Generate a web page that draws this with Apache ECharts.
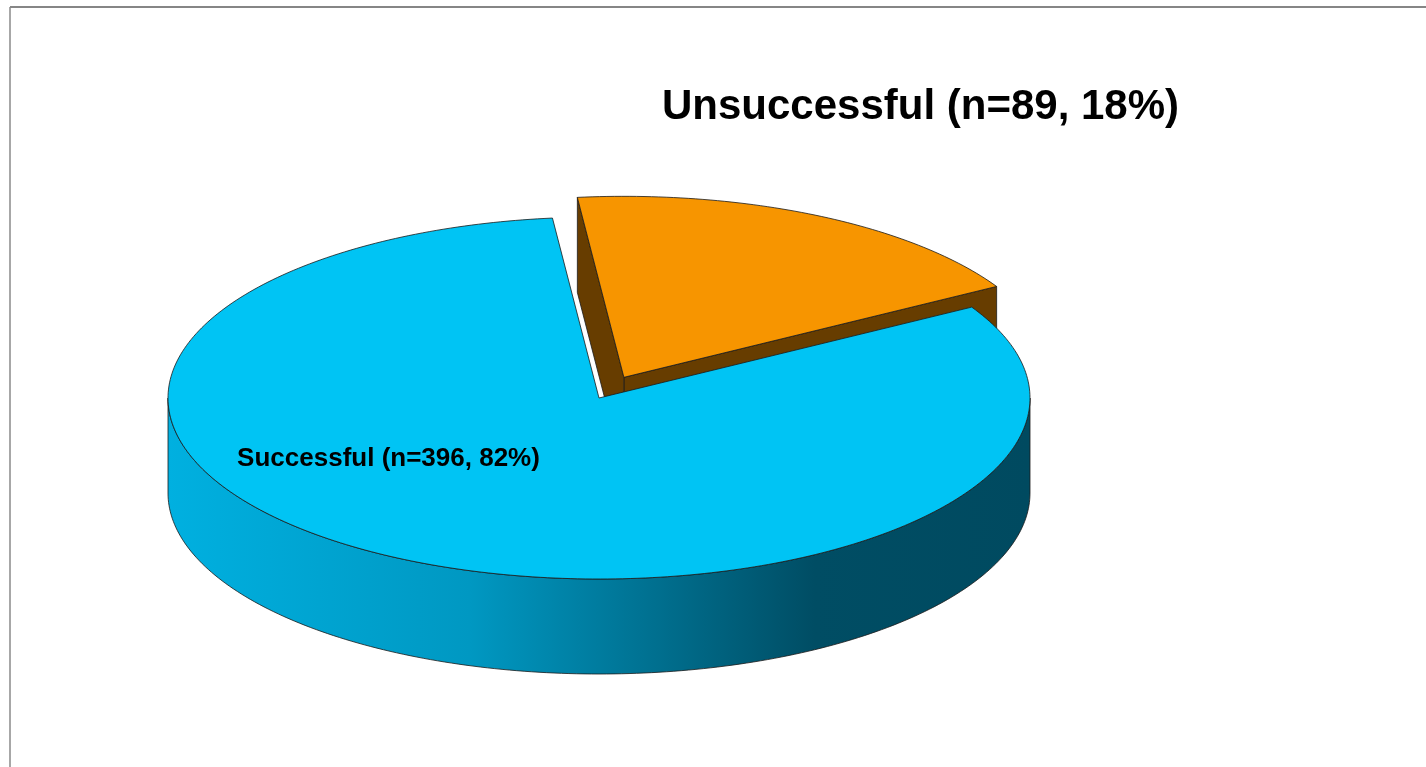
<!DOCTYPE html>
<html>
<head>
<meta charset="utf-8">
<script src="https://cdn.jsdelivr.net/npm/echarts@6/dist/echarts.min.js"></script>
<style>
html,body{margin:0;padding:0;background:#fff;}
#chart{width:1426px;height:767px;}
</style>
</head>
<body>
<div id="chart"></div>
<script>
// ---- data ----
const categories = ['Successful', 'Unsuccessful'];
const counts = [396, 89];
const exploded = [false, true];

// ---- styling / geometry ----
const topColors = ['#00c4f4', '#f79500'];
const wallColors = [null, '#673d00'];
const CX = 599, CY = 398, RX = 431, RY = 181, DEPTH = 95;
const START = 96.2;       // degrees, counter-clockwise from east
const EXPLODE = 0.128;    // fraction of radius

const total = counts.reduce((a, b) => a + b, 0);
function sliceAngles(i) {
  let acc = 0;
  for (let k = 0; k < i; k++) acc += counts[k];
  const a1 = START + acc / total * 360;
  const a2 = a1 + counts[i] / total * 360;
  return [a1, a2];
}
function offset(i) {
  if (!exploded[i]) return [0, 0];
  const [a1, a2] = sliceAngles(i);
  const m = (a1 + a2) / 2 * Math.PI / 180;
  return [RX * EXPLODE * Math.cos(m), -RY * EXPLODE * Math.sin(m)];
}
function pt(i, deg, dz) {
  const o = offset(i);
  const r = deg * Math.PI / 180;
  return [CX + o[0] + RX * Math.cos(r), CY + o[1] - RY * Math.sin(r) + (dz || 0)];
}
function apex(i, dz) {
  const o = offset(i);
  return [CX + o[0], CY + o[1] + (dz || 0)];
}
function arcPts(i, a, b, dz) {
  const pts = [];
  const n = Math.max(2, Math.ceil(Math.abs(b - a)));
  for (let k = 0; k <= n; k++) pts.push(pt(i, a + (b - a) * k / n, dz));
  return pts;
}
const blueWallGrad = new echarts.graphic.LinearGradient(CX - RX, 0, CX + RX, 0, [
  { offset: 0, color: '#00b0e0' },
  { offset: 0.35, color: '#0098c2' },
  { offset: 0.75, color: '#004d64' },
  { offset: 1, color: '#004a60' }
], true);
const edgeStyle = { stroke: '#1a1a1a', lineWidth: 0.8 };

function renderWalls(params, api) {
  const i = params.dataIndex;
  const [a1, a2] = sliceAngles(i);
  const children = [];
  const fill = i === 0 ? blueWallGrad : wallColors[i];
  // radial faces
  const faces = [[a1, a1 - 90], [a2, a2 + 90]];
  faces.forEach(([edge, normal]) => {
    if (Math.sin(normal * Math.PI / 180) < 0) {
      children.push({
        type: 'polygon',
        shape: { points: [apex(i), pt(i, edge), pt(i, edge, DEPTH), apex(i, DEPTH)] },
        style: Object.assign({ fill: wallColors[i] || '#004a60' }, edgeStyle)
      });
    }
  });
  // outer front wall
  [[180, 360], [540, 720]].forEach(([f1, f2]) => {
    const s = Math.max(a1, f1), e = Math.min(a2, f2);
    if (e > s) {
      const top = arcPts(i, s, e, 0);
      const bot = arcPts(i, e, s, DEPTH);
      children.push({
        type: 'polygon',
        shape: { points: top.concat(bot) },
        style: Object.assign({ fill: fill }, edgeStyle)
      });
    }
  });
  return { type: 'group', children: children };
}
function renderTops(params, api) {
  const i = params.dataIndex;
  const [a1, a2] = sliceAngles(i);
  const pts = [apex(i)].concat(arcPts(i, a1, a2, 0));
  return {
    type: 'polygon',
    shape: { points: pts },
    style: Object.assign({ fill: topColors[i] }, edgeStyle)
  };
}

function labelText(i) {
  return categories[i] + ' (n=' + counts[i] + ', ' + Math.round(counts[i] / total * 100) + '%)';
}

const chart = echarts.init(document.getElementById('chart'), null, { renderer: 'canvas' });
chart.setOption({
  backgroundColor: '#ffffff',
  animation: false,
  series: [
    { type: 'custom', coordinateSystem: 'none', z: 1, data: counts, renderItem: renderWalls, silent: true },
    { type: 'custom', coordinateSystem: 'none', z: 2, data: counts, renderItem: renderTops, silent: true }
  ],
  graphic: [
    { type: 'line', shape: { x1: 10, y1: 7, x2: 1426, y2: 7 }, style: { stroke: '#5e5e5e', lineWidth: 1.5 }, z: 10 },
    { type: 'line', shape: { x1: 10, y1: 7, x2: 10, y2: 767 }, style: { stroke: '#8a8a8a', lineWidth: 1.5 }, z: 10 },
    { type: 'text', x: 920.5, y: 107, z: 10, style: { text: labelText(1), font: 'bold 42px "Liberation Sans", Arial, sans-serif', fill: '#000', align: 'center', verticalAlign: 'middle' } },
    { type: 'text', x: 388.5, y: 459, z: 10, style: { text: labelText(0), font: 'bold 26px "Liberation Sans", Arial, sans-serif', fill: '#000', align: 'center', verticalAlign: 'middle' } }
  ]
});
</script>
</body>
</html>
